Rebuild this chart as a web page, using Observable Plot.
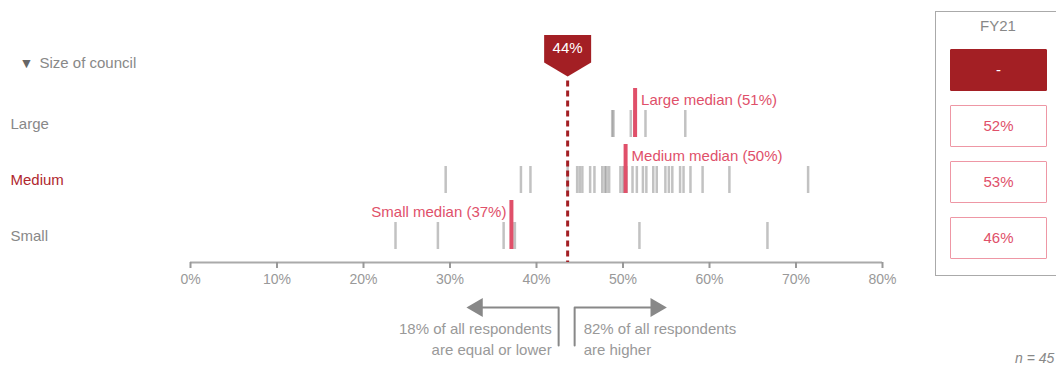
<!DOCTYPE html>
<html>
<head>
<meta charset="utf-8">
<script src="https://cdn.jsdelivr.net/npm/d3@7"></script>
<script src="https://cdn.jsdelivr.net/npm/@observablehq/plot@0.6"></script>
<style>
  body { margin: 0; background: #fff; font-family: "Liberation Sans", Arial, sans-serif; }
  #wrap { position: relative; width: 1056px; height: 367px; overflow: hidden; }
  #chart svg { display: block; }
  #fy { position: absolute; left: 935px; top: 11px; width: 140px; height: 265px; border: 1px solid #aaa; box-sizing: border-box; }
  #fy .title { position: absolute; top: 5px; left: 0; width: 124px; text-align: center; font-size: 15px; color: #888; }
  #fy .box { position: absolute; left: 14px; width: 97px; height: 42px; box-sizing: border-box; text-align: center; line-height: 40px; font-size: 15px; border: 1.5px solid #ee97a5; color: #e0506a; border-radius: 1px; }
  #fy .box.first { background: #a31f24; border-color: #a31f24; color: #fff; }
  #note { position: absolute; left: 1015px; top: 350px; font-size: 14px; font-style: italic; color: #888; white-space: pre; }
</style>
</head>
<body>
<div id="wrap">
  <div id="chart"></div>
  <div id="fy"></div>
  <div id="note"></div>
</div>
<script>
// ---- data ----
const rows = ["Large", "Medium", "Small"];
const largeValues = [48.75, 48.9, 50.9, 51.3, 52.6, 57.2];
const mediumValues = [29.5, 38.2, 39.3, 43.6, 44.7, 45.0, 45.3, 46.2, 46.7, 47.6, 47.9, 48.1, 48.4,
  49.7, 50.0, 50.2, 50.4, 51.1, 51.6, 52.3, 52.7, 53.5, 53.9, 54.9, 55.3, 55.7, 56.6, 57.0, 57.8,
  59.2, 62.3, 71.4];
const smallValues = [23.7, 28.6, 36.2, 37.2, 37.5, 51.9, 66.7];
const medianValues = [51.4, 50.3, 37.1];
const threshold = 43.6;
const shareBelow = 18;
const shareAbove = 82;
const xTicks = [0, 10, 20, 30, 40, 50, 60, 70, 80];
const fy21Label = "FY21";
const fy21Values = ["-", "52%", "53%", "46%"];
const headerLabel = "Size of council";
const nRespondents = 45;

// ---- styles ----
const pink = "#e0506a";
const darkRed = "#a31f24";
const gray = "#888";
const rowColor = {Large: "#888", Medium: "#b0282e", Small: "#888"};
const labelLeft = new Set(["Small"]);

// y layout in "row units" (row i at i+1)
const yTop = -1.2054, yAxis = 3.4732;
const half = 0.241, ext = 0.393;

const series = [largeValues, mediumValues, smallValues];
const ticks = rows.flatMap((row, i) => series[i].map(v => ({row, r: i + 1, v})));
const medians = rows.map((row, i) => ({row, r: i + 1, v: medianValues[i]}));
const medianText = d => `${d.row} median (${Math.round(d.v)}%)`;

const pentagon = {
  draw(ctx) {
    ctx.moveTo(-23.5, -13.5);
    ctx.lineTo(23.5, -13.5);
    ctx.lineTo(23.5, 14);
    ctx.lineTo(0, 28);
    ctx.lineTo(-23.5, 14);
    ctx.closePath();
  }
};

const markerY = -0.348;
const annTop = 4.277, annBottom = 4.955, line1 = 4.67, line2 = 5.045;
const fs = 15;

const chart = Plot.plot({
  width: 1056,
  height: 367,
  marginLeft: 190,
  marginRight: 174,
  marginTop: 0,
  marginBottom: 105,
  style: {fontFamily: "Liberation Sans, Arial, sans-serif", background: "#fff"},
  x: {domain: [0, 80], label: null},
  y: {domain: [yTop, yAxis], reverse: true, axis: null, label: null},
  marks: [
    Plot.ruleY([yAxis], {stroke: "#aaa", strokeWidth: 2}),
    Plot.axisX({ticks: xTicks, tickFormat: d => d + "%", tickSize: 6, tickPadding: 6, fontSize: 14, color: "#999", strokeWidth: 2, label: null}),
    Plot.ruleX(ticks, {x: "v", y1: d => d.r - half, y2: d => d.r + half, stroke: "#777", strokeOpacity: 0.45, strokeWidth: 2.5}),
    Plot.ruleX([threshold], {x: d => d, y1: markerY + 0.58, y2: yAxis, stroke: darkRed, strokeWidth: 3, strokeDasharray: "6,4"}),
    Plot.ruleX(medians, {x: "v", y1: d => d.r - half - ext, y2: d => d.r + half, stroke: pink, strokeWidth: 4}),
    Plot.text(medians.filter(d => !labelLeft.has(d.row)), {x: "v", y: d => d.r - 0.43, text: medianText,
      textAnchor: "start", dx: 6, fill: pink, fontSize: fs}),
    Plot.text(medians.filter(d => labelLeft.has(d.row)), {x: "v", y: d => d.r - 0.43, text: medianText,
      textAnchor: "end", dx: -5, fill: pink, fontSize: fs}),
    Plot.dot([threshold], {x: d => d, y: markerY, symbol: pentagon, fill: darkRed, stroke: null, r: 10}),
    Plot.text([threshold], {x: d => d, y: markerY, text: d => Math.round(d) + "%", fill: "#fff", fontSize: fs}),
    // row labels
    Plot.text(rows, {y: (d, i) => i + 1, frameAnchor: "left", dx: -180, textAnchor: "start", text: d => d,
      fill: d => rowColor[d], fontSize: fs}),
    Plot.text(["▼"], {y: -0.08, frameAnchor: "left", dx: -171, textAnchor: "start", text: d => d, fill: "#666", fontSize: 14}),
    Plot.text([headerLabel], {y: -0.08, frameAnchor: "left", dx: -151, textAnchor: "start", text: d => d, fill: "#888", fontSize: fs}),
    // bottom annotations
    Plot.line([[threshold, annBottom], [threshold, annTop], [threshold - 9.4, annTop]], {x: d => d[0], y: d => d[1], dx: -9, stroke: gray, strokeWidth: 2}),
    Plot.dot([[threshold - 9.4, annTop]], {x: d => d[0], y: d => d[1], dx: -9, symbol: "triangle", rotate: -90, r: 7, fill: gray, stroke: null}),
    Plot.line([[threshold, annBottom], [threshold, annTop], [threshold + 9.4, annTop]], {x: d => d[0], y: d => d[1], dx: 7, stroke: gray, strokeWidth: 2}),
    Plot.dot([[threshold + 9.4, annTop]], {x: d => d[0], y: d => d[1], dx: 7, symbol: "triangle", rotate: 90, r: 7, fill: gray, stroke: null}),
    Plot.text([`${shareBelow}% of all respondents`, "are equal or lower"], {x: threshold, y: (d, i) => i ? line2 : line1, dx: -16, textAnchor: "end", text: d => d, fill: "#999", fontSize: fs}),
    Plot.text([`${shareAbove}% of all respondents`, "are higher"], {x: threshold, y: (d, i) => i ? line2 : line1, dx: 16, textAnchor: "start", text: d => d, fill: "#999", fontSize: fs})
  ]
});
document.getElementById("chart").appendChild(chart);

// FY21 panel
const fy = document.getElementById("fy");
const t = document.createElement("div");
t.className = "title";
t.textContent = fy21Label;
fy.appendChild(t);
fy21Values.forEach((v, i) => {
  const b = document.createElement("div");
  b.className = "box" + (i === 0 ? " first" : "");
  b.style.top = (37 + i * 56) + "px";
  b.textContent = v;
  fy.appendChild(b);
});
document.getElementById("note").textContent = "n\u00a0=\u00a0" + nRespondents;
</script>
</body>
</html>
